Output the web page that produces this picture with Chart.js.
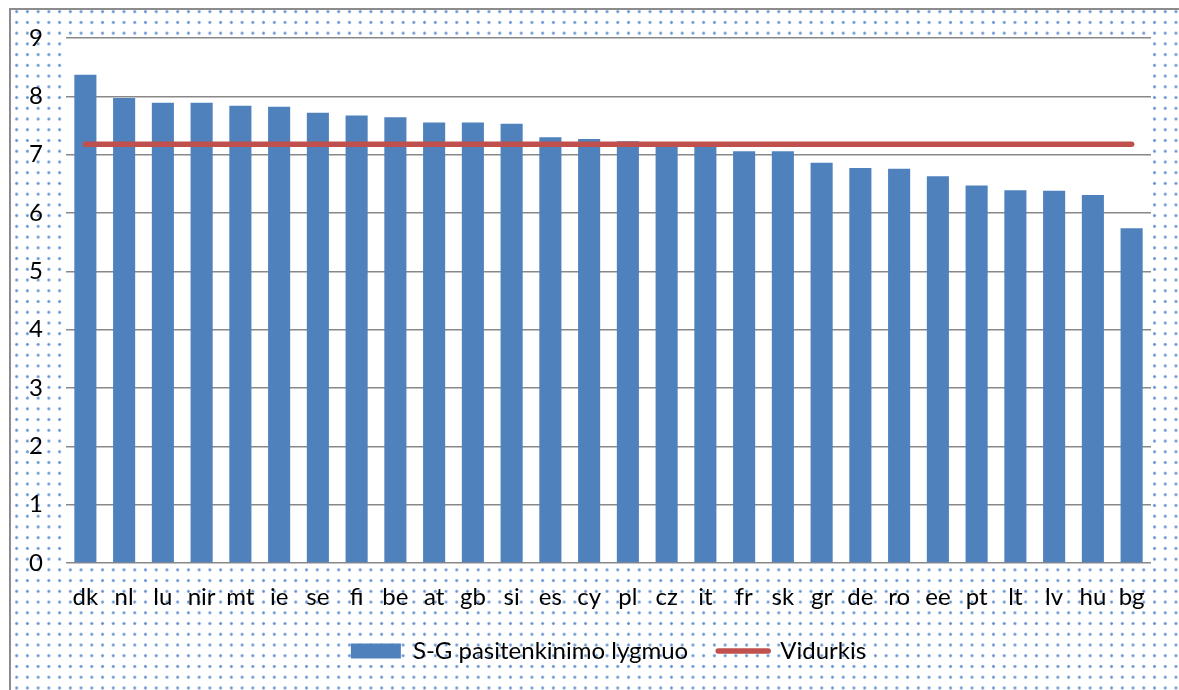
<!DOCTYPE html>
<html>
<head>
<meta charset="utf-8">
<script src="https://cdn.jsdelivr.net/npm/chart.js@4.4.1/dist/chart.umd.min.js"></script>
<style>
  html, body { margin: 0; padding: 0; background: #fff; }
  body { width: 1179px; height: 690px; position: relative; overflow: hidden; }
  /* outer frame with the dotted fill */
  #frame {
    position: absolute; left: 9px; top: 8px; width: 1200px; height: 720px;
    border-left: 2px solid #8c8c8c; border-top: 2px solid #8c8c8c;
    background-image: radial-gradient(circle, #5f8fd0 0, #5f8fd0 0.9px, rgba(95,143,208,0.35) 1.5px, rgba(255,255,255,0) 2.1px);
    background-size: 10.74px 10.74px;
    background-position: 0.3px -3.7px;
  }
  #wrap { position: absolute; left: 0; top: 0; width: 1179px; height: 690px; }
</style>
</head>
<body>
<div id="frame"></div>
<div id="wrap"><canvas id="grafikas" width="1179" height="690"></canvas></div>
<script>
// šalys
const salys = ['dk', 'nl', 'lu', 'nir', 'mt', 'ie', 'se', 'fi', 'be', 'at', 'gb', 'si', 'es', 'cy',
  'pl', 'cz', 'it', 'fr', 'sk', 'gr', 'de', 'ro', 'ee', 'pt', 'lt', 'lv', 'hu', 'bg'];

// S-G pasitenkinimo lygmuo
const lygmuo = [8.37, 7.97, 7.89, 7.89, 7.84, 7.82, 7.72, 7.67, 7.64, 7.55, 7.55, 7.53, 7.30, 7.27,
  7.23, 7.17, 7.16, 7.06, 7.06, 6.86, 6.77, 6.76, 6.63, 6.47, 6.39, 6.38, 6.31, 5.74];

// Vidurkis
const vidurkis = [7.18, 7.18, 7.18, 7.18, 7.18, 7.18, 7.18, 7.18, 7.18, 7.18, 7.18, 7.18, 7.18, 7.18,
  7.18, 7.18, 7.18, 7.18, 7.18, 7.18, 7.18, 7.18, 7.18, 7.18, 7.18, 7.18, 7.18, 7.18];

const yZymes = [0, 1, 2, 3, 4, 5, 6, 7, 8, 9];

const sriftas = { family: 'Lato, "Open Sans", sans-serif', size: 24 };

// white plot area over the dotted background
const baltasFonas = {
  id: 'baltasFonas',
  beforeDraw(chart) {
    const { ctx, chartArea: a } = chart;
    ctx.save();
    ctx.fillStyle = '#ffffff';
    ctx.fillRect(a.left, a.top, a.right - a.left, a.bottom - a.top);
    ctx.restore();
  }
};

new Chart(document.getElementById('grafikas'), {
  data: {
    labels: salys,
    datasets: [
      {
        type: 'bar',
        label: 'S-G pasitenkinimo lygmuo',
        data: lygmuo,
        backgroundColor: '#4F81BD',
        barPercentage: 0.57,
        categoryPercentage: 1,
        order: 1
      },
      {
        type: 'line',
        label: 'Vidurkis',
        data: vidurkis,
        borderColor: '#C0504D',
        borderWidth: 5.5,
        borderCapStyle: 'round',
        pointRadius: 0,
        tension: 0,
        order: 0
      }
    ]
  },
  options: {
    responsive: false,
    devicePixelRatio: 1,
    animation: false,
    events: [],
    layout: { padding: { left: 20, right: 28, top: 38, bottom: 17 } },
    scales: {
      x: {
        grid: { display: false },
        border: { display: false },
        ticks: { color: '#000', font: sriftas, padding: 12, maxRotation: 0, autoSkip: false },
        afterFit(s) { s.height = 46; }
      },
      y: {
        min: yZymes[0],
        max: yZymes[yZymes.length - 1],
        grid: { color: '#888888', lineWidth: 1.5, drawTicks: false },
        border: { display: false },
        ticks: { stepSize: 1, color: '#000', font: sriftas, padding: 23 },
        afterFit(s) { s.width = 46; }
      }
    },
    plugins: {
      tooltip: { enabled: false },
      legend: {
        position: 'bottom',
        fullSize: false,
        labels: {
          color: '#000',
          font: sriftas,
          usePointStyle: true,
          pointStyleWidth: 50,
          boxHeight: 15,
          padding: 30,
          generateLabels() {
            return [
              { text: 'S-G pasitenkinimo lygmuo', fillStyle: '#4F81BD', strokeStyle: '#4F81BD', lineWidth: 0, pointStyle: 'rect', datasetIndex: 0, hidden: false },
              { text: 'Vidurkis', fillStyle: '#C0504D', strokeStyle: '#C0504D', lineWidth: 5.5, lineCap: 'round', pointStyle: 'line', datasetIndex: 1, hidden: false }
            ];
          }
        }
      }
    }
  },
  plugins: [baltasFonas]
});
</script>
</body>
</html>
